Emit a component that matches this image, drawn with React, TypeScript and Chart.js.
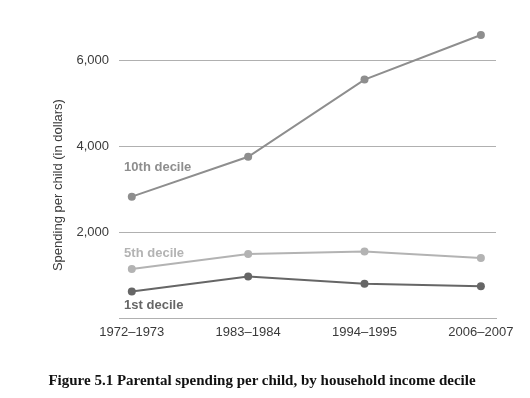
import React, { useEffect, useRef } from 'react';
import { Chart, registerables } from 'chart.js';

Chart.register(...registerables);

const periods = ['1972–1973', '1983–1984', '1994–1995', '2006–2007'];
const decile10 = [2830, 3760, 5560, 6600];
const decile5 = [1140, 1490, 1550, 1400];
const decile1 = [620, 970, 800, 740];
const yTicks = [2000, 4000, 6000];
const seriesNames = ['10th decile', '5th decile', '1st decile'];
const seriesColors = ['#8e8e8e', '#b3b3b3', '#666666'];
const labelX = -0.066;
const labelY = [3520, 1510, 300];
const yTitle = 'Spending per child (in dollars)';
const yTitleCenterValue = 3100;
const caption = 'Figure 5.1 Parental spending per child, by household income decile';

const seriesData = [decile10, decile5, decile1];

const labelPlugin = {
  id: 'decileLabels',
  afterDatasetsDraw(chart: any) {
    const { ctx, scales } = chart;
    ctx.save();
    ctx.font = 'bold 13px "Liberation Sans", Arial, sans-serif';
    ctx.textAlign = 'left';
    ctx.textBaseline = 'middle';
    seriesNames.forEach((name, i) => {
      ctx.fillStyle = seriesColors[i];
      ctx.fillText(name, scales.x.getPixelForValue(labelX), scales.y.getPixelForValue(labelY[i]));
    });
    // y-axis title
    ctx.font = '13px "Liberation Sans", Arial, sans-serif';
    ctx.fillStyle = '#3a3a3a';
    ctx.textAlign = 'center';
    ctx.translate(scales.y.left + 10, scales.y.getPixelForValue(yTitleCenterValue));
    ctx.rotate(-Math.PI / 2);
    ctx.fillText(yTitle, 0, 0);
    ctx.restore();
  },
};

export default function App() {
  const ref = useRef<HTMLCanvasElement | null>(null);
  useEffect(() => {
    if (!ref.current) return;
    const chart = new Chart(ref.current, {
      type: 'line',
      data: {
        datasets: seriesData.map((vals, i) => ({
          label: seriesNames[i],
          data: vals.map((v, j) => ({ x: j, y: v })),
          borderColor: seriesColors[i],
          backgroundColor: seriesColors[i],
          borderWidth: 2,
          pointRadius: 4,
          pointBorderWidth: 0,
          tension: 0,
        })),
      },
      options: {
        animation: false,
        responsive: false,
        maintainAspectRatio: false,
        layout: { padding: { left: 48, right: 34, top: 16, bottom: 0 } },
        plugins: { legend: { display: false }, tooltip: { enabled: false }, title: { display: false } },
        scales: {
          x: {
            type: 'linear',
            min: -0.11,
            max: 3.13,
            afterBuildTicks: (s: any) => { s.ticks = periods.map((_, i) => ({ value: i })); },
            afterFit: (s: any) => { s.height = 80; },
            grid: { display: false, drawTicks: false },
            border: { display: true, color: '#b0b0b0', width: 1 },
            ticks: {
              padding: 7,
              maxRotation: 0,
              autoSkip: false,
              color: '#3a3a3a',
              font: { family: '"Liberation Sans", Arial, sans-serif', size: 13 },
              callback: (v: any) => periods[v] ?? '',
            },
          },
          y: {
            type: 'linear',
            min: 0,
            max: 7000,
            afterBuildTicks: (s: any) => { s.ticks = yTicks.map((v) => ({ value: v })); },
            afterFit: (s: any) => { s.width = 71; },
            grid: { color: '#b0b0b0', lineWidth: 1, drawTicks: false },
            border: { display: false },
            ticks: {
              padding: 10,
              color: '#3a3a3a',
              font: { family: '"Liberation Sans", Arial, sans-serif', size: 13 },
              callback: (v: any) => Number(v).toLocaleString('en-US'),
            },
          },
        },
      },
      plugins: [labelPlugin],
    } as any);
    return () => chart.destroy();
  }, []);
  return (
    <div style={{ position: 'absolute', left: 0, top: 0, width: 530, height: 398, background: '#fff' }}>
      <canvas ref={ref} width={530} height={398} style={{ position: 'absolute', left: 0, top: 0 }} />
      <div
        style={{
          position: 'absolute',
          left: 0,
          top: 371,
          width: 524,
          textAlign: 'center',
          fontFamily: '"Liberation Serif", "Times New Roman", serif',
          fontWeight: 'bold',
          fontSize: 15,
          lineHeight: '18px',
          color: '#111',
          whiteSpace: 'nowrap',
        }}
      >
        {caption}
      </div>
    </div>
  );
}
